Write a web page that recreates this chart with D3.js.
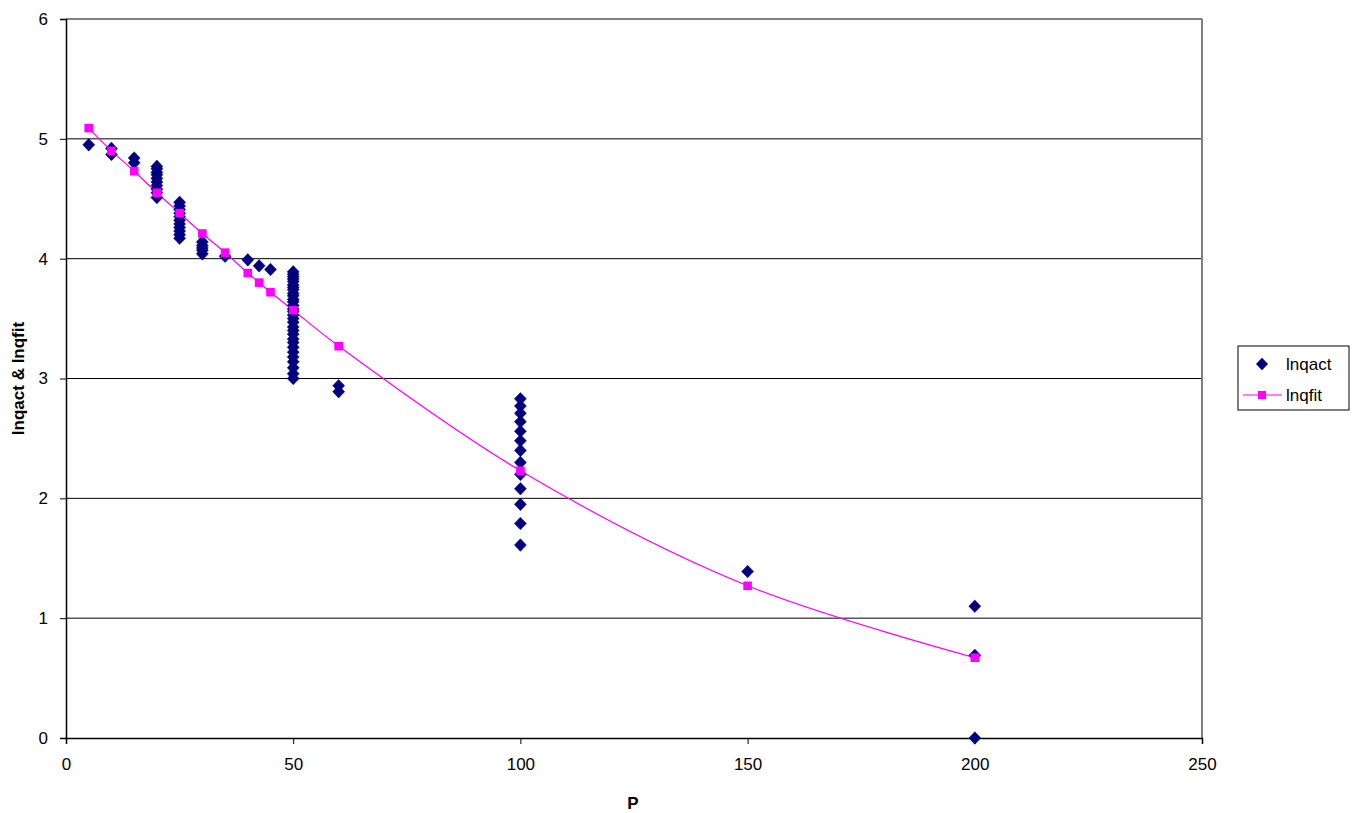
<!DOCTYPE html>
<html><head><meta charset="utf-8">
<script src="https://cdn.jsdelivr.net/npm/d3@7/dist/d3.min.js"></script>
<style>body{margin:0;background:#fff;} text{font-family:"Liberation Sans",Arial,sans-serif;}</style>
</head><body><svg id="c" width="1357" height="813"></svg>
<script>
// Data
const actP = [5,10,10,15,15,
  20,20,20,20,20,20,20,20,20,20,
  25,25,25,25,25,25,25,25,25,25,25,
  30,30,30,30,30,
  35,40,42.5,45,
  50,50,50,50,50,50,50,50,50,50,50,50,50,50,50,50,50,50,50,50,50,50,50,50,50,50,50,50,50,50,
  60,60,
  100,100,100,100,100,100,100,100,100,100,100,100,100,
  150,200,200,200];
const actVal = [4.95,4.87,4.92,4.80,4.84,
  4.51,4.55,4.58,4.61,4.64,4.67,4.70,4.72,4.75,4.77,
  4.17,4.20,4.23,4.26,4.29,4.32,4.35,4.38,4.41,4.44,4.47,
  4.04,4.07,4.09,4.11,4.14,
  4.02,3.99,3.94,3.91,
  3.00,3.04,3.09,3.14,3.18,3.22,3.26,3.30,3.33,3.37,3.40,3.43,3.47,3.50,3.53,3.56,3.58,3.61,3.64,3.66,3.69,3.71,3.74,3.76,3.78,3.81,3.83,3.85,3.87,3.89,
  2.94,2.89,
  1.61,1.79,1.95,2.08,2.20,2.30,2.40,2.48,2.56,2.64,2.71,2.77,2.83,
  1.39,1.10,0.69,0.00];
const fitP = [5,10,15,20,25,30,35,40,42.5,45,50,60,100,150,200];
const fitVal = [5.09,4.90,4.73,4.55,4.38,4.21,4.05,3.88,3.80,3.72,3.57,3.27,2.23,1.27,0.67];
const xTicks = [0,50,100,150,200,250];
const yTicks = [0,1,2,3,4,5,6];
const seriesNames = ["lnqact","lnqfit"];
const xTitle = "P", yTitle = "lnqact & lnqfit";

const svg = d3.select("#c");
const L=66, R=1202, T=19, B=738;
const x = d3.scaleLinear().domain([0,250]).range([L,R]);
const y = d3.scaleLinear().domain([0,6]).range([B,T]);
const navy="#000080", mag="#FF00FF";

// gridlines
svg.append("g").selectAll("line").data(yTicks.filter(d=>d>0)).join("line")
  .attr("x1",L).attr("x2",R).attr("y1",d=>y(d)).attr("y2",d=>y(d))
  .attr("stroke",d=>d===6?"#808080":"#000").attr("stroke-width",d=>d===6?2:1);
svg.append("line").attr("x1",R).attr("x2",R).attr("y1",T).attr("y2",B).attr("stroke","#808080").attr("stroke-width",2);

// axes
const ya = svg.append("g").attr("transform",`translate(${L},0)`)
  .call(d3.axisLeft(y).tickValues(yTicks).tickSize(6).tickPadding(12).tickFormat(d3.format("d")));
const xa = svg.append("g").attr("transform",`translate(0,${B})`)
  .call(d3.axisBottom(x).tickValues(xTicks).tickSize(6).tickPadding(14).tickFormat(d3.format("d")));
[ya,xa].forEach(g=>{g.select(".domain").attr("stroke","#000").attr("stroke-width",1.5);
  g.selectAll(".tick line").attr("stroke","#000");
  g.selectAll("text").attr("font-size",17).attr("fill","#000").style("font-family","'Liberation Sans',Arial,sans-serif");});

// fit line
svg.append("path").datum(fitP.map((p,i)=>[p,fitVal[i]]))
  .attr("fill","none").attr("stroke",mag).attr("stroke-width",1.2)
  .attr("d",d3.line().x(d=>x(d[0])).y(d=>y(d[1])).curve(d3.curveCatmullRom.alpha(0.5)));

// act diamonds
const dia = "M0,-6.3L6,0L0,6.3L-6,0Z";
svg.append("g").selectAll("path").data(actP.map((p,i)=>[p,actVal[i]])).join("path")
  .attr("d",dia).attr("transform",d=>`translate(${x(d[0])},${y(d[1])})`)
  .attr("fill",navy).attr("stroke",navy).attr("stroke-width",0.5);

// fit squares
svg.append("g").selectAll("rect").data(fitP.map((p,i)=>[p,fitVal[i]])).join("rect")
  .attr("x",d=>x(d[0])-4.3).attr("y",d=>y(d[1])-4.3).attr("width",8.6).attr("height",8.6).attr("fill",mag);

// titles
svg.append("text").attr("x",(L+R)/2-1).attr("y",809).attr("text-anchor","middle")
  .attr("font-size",17).attr("font-weight","bold").text(xTitle);
svg.append("text").attr("transform",`translate(24,${(T+B)/2}) rotate(-90)`).attr("text-anchor","middle")
  .attr("font-size",17).attr("font-weight","bold").text(yTitle);

// legend
const lg = svg.append("g");
lg.append("rect").attr("x",1238).attr("y",346).attr("width",111).attr("height",64)
  .attr("fill","#fff").attr("stroke","#000").attr("stroke-width",1);
lg.append("path").attr("d",dia).attr("transform","translate(1262,364)").attr("fill",navy);
lg.append("line").attr("x1",1243).attr("x2",1282).attr("y1",395).attr("y2",395).attr("stroke",mag).attr("stroke-width",1.2);
lg.append("rect").attr("x",1258).attr("y",391).attr("width",8).attr("height",8).attr("fill",mag);
lg.append("text").attr("x",1286).attr("y",370).attr("font-size",17).text(seriesNames[0]);
lg.append("text").attr("x",1286).attr("y",401).attr("font-size",17).text(seriesNames[1]);
</script></body></html>
